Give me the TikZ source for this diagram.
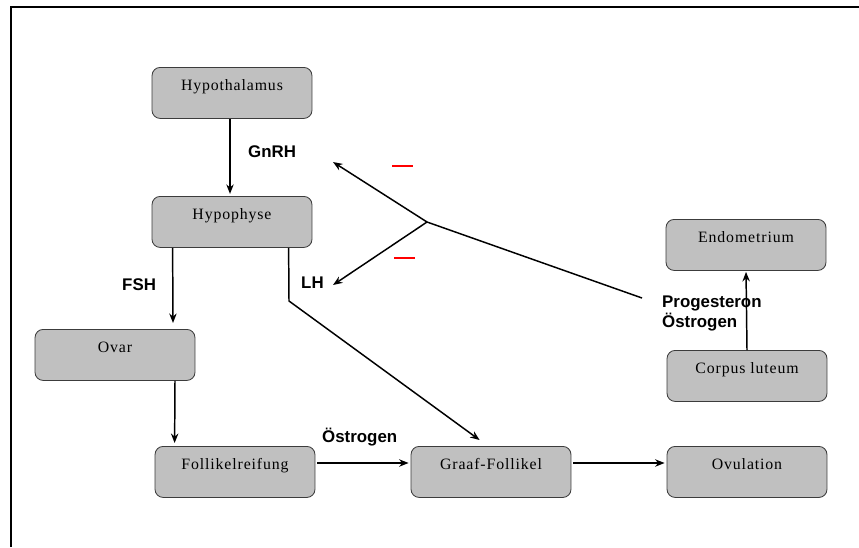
\documentclass[tikz,border=0pt]{standalone}
\usepackage{fontspec}
\setmainfont{Liberation Serif}
\newfontfamily\labelfont{Liberation Sans}
\newfontfamily\boxfont[LetterSpace=5.5]{Liberation Serif}
\usetikzlibrary{arrows.meta,calc}
\definecolor{boxgray}{RGB}{192,192,192}
\definecolor{rimgray}{RGB}{60,60,60}

\begin{document}
\begin{tikzpicture}[x=0.03333cm,y=-0.03333cm,
    organ/.style={draw=rimgray,fill=boxgray,rounded corners=0.27cm,line width=0.8pt,
      minimum width=5.33cm,inner sep=0pt,text height=0.77cm,text depth=0.93cm,
      anchor=north,font=\boxfont\fontsize{15}{18}\selectfont},
    hormon/.style={font=\labelfont\bfseries\fontsize{16}{19}\selectfont,inner sep=0pt},
    arr/.style={-{Stealth[length=9pt,width=7pt]},line width=1.4pt},
    minus/.style={red,line width=2.2pt}]
  \useasboundingbox (0,0) rectangle (859,547);
  % Rahmen
  \draw[line width=2.4pt] (11,547) -- (11,7) -- (859,7);

  % Kaesten
  \node[organ] (hyth)  at (232,67)  {Hypothalamus};
  \node[organ] (hyph)  at (232,196) {Hypophyse};
  \node[organ] (ovar)  at (115,329) {Ovar};
  \node[organ] (foll)  at (235,446) {Follikelreifung};
  \node[organ] (graaf) at (491,446) {Graaf-Follikel};
  \node[organ] (ovul)  at (747,446) {Ovulation};
  \node[organ] (endo)  at (746,219) {Endometrium};
  \node[organ] (corp)  at (747,350) {Corpus luteum};

  % Hormone
  \node[hormon,anchor=base west] (gnrh)  at (248,157) {GnRH};
  \node[hormon,anchor=base west] (fsh)   at (122,290) {FSH};
  \node[hormon,anchor=base west] (lh)    at (301,288) {LH};
  \node[hormon,anchor=base west] (oestr) at (322,442) {Östrogen};
  \node[hormon,anchor=north west,align=left] (steroide) at (662,296) {Progesteron\\Östrogen};

  % Achse
  \draw[arr,shorten >=2pt] ($(hyth.south)+(-2,0)$) -- ($(hyph.north)+(-2,0)$);
  \draw[arr] ($(hyph.south west)+(21,0)$) -- ($(ovar.north)+(58,-6)$);
  \draw[arr] ($(ovar.south)+(60,0)$) -- ($(foll.north west)+(20,-3)$);
  \coordinate (knee) at (289,301);
  \draw[arr] ($(hyph.south west)+(137,0)$) -- (knee) -- ($(graaf.north west)+(69,-6)$);

  \foreach \a/\b in {foll/graaf, graaf/ovul}
    \draw[arr] ($(\a.north east)+(2,17)$) -- ($(\b.north west)+(-2,17)$);

  \draw[arr,shorten >=1pt] (corp.north) -- (endo.south);

  % Rueckkopplung
  \coordinate (junc)    at (427,222);
  \coordinate (luteal)  at (642,298);
  \coordinate (gnrhtip) at (333,162);
  \coordinate (lhtip)   at (333,285);
  \draw[line width=1.4pt] (luteal) -- (junc);
  \draw[arr] (junc) -- (gnrhtip);
  \draw[arr] (junc) -- (lhtip);

  \draw[minus] (392,166) -- (413,166);
  \draw[minus] (394,258) -- (415,258);
\end{tikzpicture}
\end{document}
